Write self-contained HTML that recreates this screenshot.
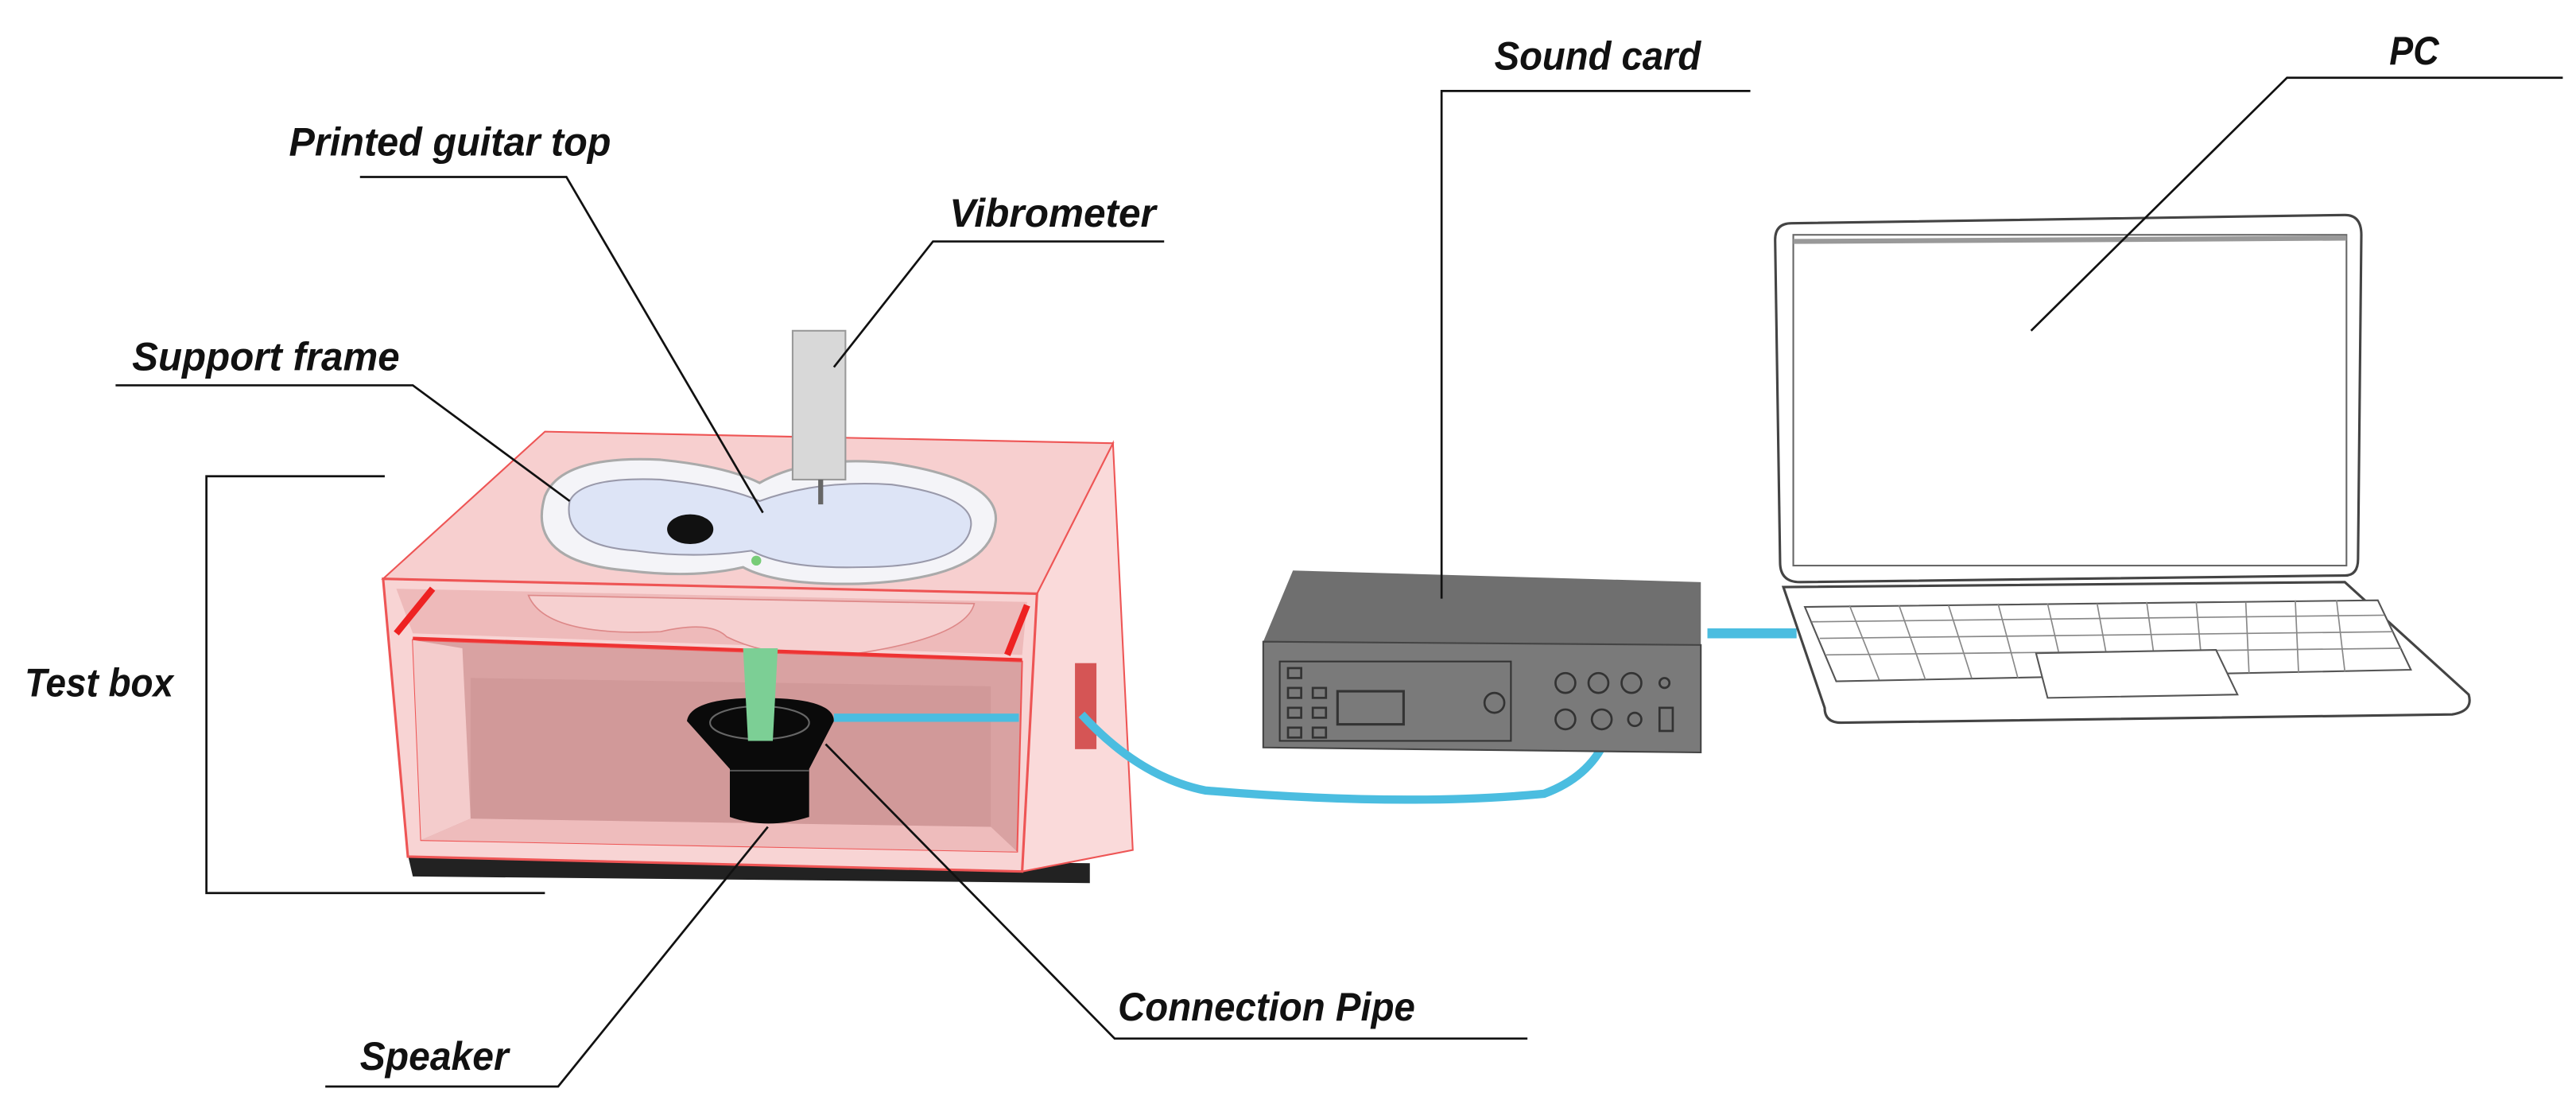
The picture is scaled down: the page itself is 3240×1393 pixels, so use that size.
<!DOCTYPE html>
<html><head><meta charset="utf-8"><style>
html,body{margin:0;padding:0;background:#fff;}
svg{display:block;}
text{font-family:"Liberation Sans Narrow","Liberation Sans",sans-serif;font-style:italic;font-weight:bold;font-size:24px;fill:#111;}
</style></head><body>
<svg width="3240" height="1393" viewBox="0 0 1560 670" preserveAspectRatio="none" xmlns="http://www.w3.org/2000/svg">
<rect width="1560" height="670" fill="#fff"/>
<polygon points="247,517 660,522 660,534 250,530" fill="#222"/>
<polygon points="628,359 674,268 686,514 619,527" fill="#fadada" stroke="#e55" stroke-width="1"/>
<polygon points="330,261 674,268 628,359 232,350" fill="#f7cfcf" stroke="#e55" stroke-width="1"/>
<polygon points="232,350 628,359 619,527 247,518" fill="#f8d4d4" stroke="#e55" stroke-width="1.5"/>
<polygon points="240,356 622,364 619,396 250,383" fill="#eebaba"/>
<path d="M320,360 Q330,385 400,382 Q430,375 440,385 Q470,400 520,395 Q585,385 590,365 Z" fill="#f6d0d0" stroke="#d88" stroke-width="0.8"/>
<line x1="240" y1="383" x2="262" y2="356" stroke="#e22" stroke-width="4"/>
<line x1="610" y1="396" x2="622" y2="366" stroke="#e22" stroke-width="4"/>
<polygon points="250,387 619,400 616,515 255,508" fill="#d9a2a2" stroke="#e55" stroke-width="1"/>
<polygon points="250,387 280,392 285,495 255,508" fill="#f4cccc"/>
<polygon points="255,508 285,495 600,500 616,515" fill="#eebcbc"/>
<polygon points="285,410 600,415 600,500 285,495" fill="#c98f8f" opacity="0.5"/>
<line x1="250" y1="386" x2="619" y2="399" stroke="#e33" stroke-width="2"/>
<rect x="651" y="401" width="13" height="52" fill="#c33" opacity="0.8"/>
<path d="M330,300 Q340,275 400,278 Q440,282 460,292 Q490,275 540,280 Q605,290 603,315 Q600,350 520,353 Q470,354 450,343 Q420,350 380,345 Q318,340 330,300 Z" fill="#f4f4f8" stroke="#aaa" stroke-width="1.5"/>
<path d="M345,303 Q352,288 400,290 Q440,294 460,303 Q495,290 540,293 Q590,300 588,318 Q585,343 520,343 Q475,344 455,333 Q420,338 385,333 Q340,330 345,303 Z" fill="#dde4f6" stroke="#99a" stroke-width="1"/>
<ellipse cx="418" cy="320" rx="14" ry="9" fill="#111"/>
<circle cx="458" cy="339" r="3" fill="#7c7"/>
<rect x="480" y="200" width="32" height="90" fill="#d8d8d8" stroke="#999"/>
<line x1="497" y1="290" x2="497" y2="305" stroke="#666" stroke-width="3"/>
<path d="M416,436 Q418,422 460,422 Q505,422 505,436 L490,465 L490,494 Q465,502 442,494 L442,465 Z" fill="#0a0a0a"/>
<line x1="442" y1="466" x2="490" y2="466" stroke="#555" stroke-width="1"/>
<ellipse cx="460" cy="437" rx="30" ry="10" fill="none" stroke="#666" stroke-width="1"/>
<polygon points="450,392 471,392 468,448 453,448" fill="#7ccf95"/>
<line x1="505" y1="434" x2="617" y2="434" stroke="#4bbde0" stroke-width="5"/>
<path d="M655,432 Q690,470 730,478 Q850,488 935,480 Q962,470 972,448" fill="none" stroke="#4bbde0" stroke-width="5"/>
<line x1="1034" y1="383" x2="1088" y2="383" stroke="#4bbde0" stroke-width="6"/>
<polygon points="783,345 1030,352 1030,390 765,388" fill="#6f6f6f"/>
<polygon points="765,388 1030,390 1030,455 765,452" fill="#7a7a7a" stroke="#444"/>
<rect x="775" y="400" width="140" height="48" fill="none" stroke="#333"/>
<rect x="810" y="418" width="40" height="20" fill="none" stroke="#333" stroke-width="1.5"/>
<g fill="none" stroke="#333" stroke-width="1.3">
<rect x="780" y="404" width="8" height="6"/><rect x="780" y="416" width="8" height="6"/><rect x="780" y="428" width="8" height="6"/><rect x="780" y="440" width="8" height="6"/>
<rect x="795" y="416" width="8" height="6"/><rect x="795" y="428" width="8" height="6"/><rect x="795" y="440" width="8" height="6"/>
<circle cx="948" cy="413" r="6"/><circle cx="968" cy="413" r="6"/><circle cx="988" cy="413" r="6"/><circle cx="1008" cy="413" r="3"/>
<circle cx="948" cy="435" r="6"/><circle cx="970" cy="435" r="6"/><circle cx="990" cy="435" r="4"/><rect x="1005" y="428" width="8" height="14"/>
<circle cx="905" cy="425" r="6"/>
</g>
<path d="M1085,135 Q1075,135 1075,145 L1078,340 Q1078,352 1090,352 L1420,348 Q1428,348 1428,338 L1430,142 Q1430,130 1420,130 Z" fill="#fff" stroke="#444" stroke-width="1.5"/>
<rect x="1086" y="142" width="335" height="200" fill="#fff" stroke="#666" stroke-width="1"/>
<line x1="1086" y1="146" x2="1421" y2="144" stroke="#999" stroke-width="3"/>
<path d="M1080,355 L1420,352 L1495,420 Q1498,430 1485,432 L1115,437 Q1105,437 1105,428 Z" fill="#fff" stroke="#444" stroke-width="1.5"/>
<polygon points="1093,367 1440,363 1460,405 1112,412" fill="#fff" stroke="#555"/>
<g stroke="#888" stroke-width="0.8">
<line x1="1097" y1="376" x2="1444" y2="372"/><line x1="1102" y1="386" x2="1449" y2="382"/><line x1="1106" y1="396" x2="1454" y2="392"/>
<line x1="1120" y1="366" x2="1138" y2="411"/><line x1="1150" y1="366" x2="1166" y2="411"/><line x1="1180" y1="366" x2="1194" y2="410"/><line x1="1210" y1="365" x2="1222" y2="410"/><line x1="1240" y1="365" x2="1250" y2="409"/><line x1="1270" y1="365" x2="1278" y2="409"/><line x1="1300" y1="364" x2="1306" y2="408"/><line x1="1330" y1="364" x2="1334" y2="408"/><line x1="1360" y1="364" x2="1362" y2="407"/><line x1="1390" y1="363" x2="1392" y2="407"/><line x1="1415" y1="363" x2="1420" y2="406"/>
</g>
<polygon points="1233,395 1342,393 1355,420 1240,422" fill="#fff" stroke="#555"/>
<g stroke="#111" stroke-width="1.3" fill="none">
<polyline points="1060,55 873,55 873,362"/>
<polyline points="1552,47 1385,47 1230,200"/>
<polyline points="218,107 343,107 462,310"/>
<polyline points="705,146 565,146 505,222"/>
<polyline points="70,233 250,233 345,303"/>
<polyline points="233,288 125,288 125,540 330,540"/>
<polyline points="197,657 338,657 465,500"/>
<polyline points="925,628 675,628 500,450"/>
</g>
<text x="905" y="42" textLength="125" lengthAdjust="spacingAndGlyphs">Sound card</text>
<text x="1447" y="39" textLength="30" lengthAdjust="spacingAndGlyphs">PC</text>
<text x="175" y="94" textLength="195" lengthAdjust="spacingAndGlyphs">Printed guitar top</text>
<text x="575" y="137" textLength="125" lengthAdjust="spacingAndGlyphs">Vibrometer</text>
<text x="80" y="224" textLength="162" lengthAdjust="spacingAndGlyphs">Support frame</text>
<text x="15" y="421" textLength="90" lengthAdjust="spacingAndGlyphs">Test box</text>
<text x="677" y="617" textLength="180" lengthAdjust="spacingAndGlyphs">Connection Pipe</text>
<text x="218" y="647" textLength="90" lengthAdjust="spacingAndGlyphs">Speaker</text>
</svg>
</body></html>
